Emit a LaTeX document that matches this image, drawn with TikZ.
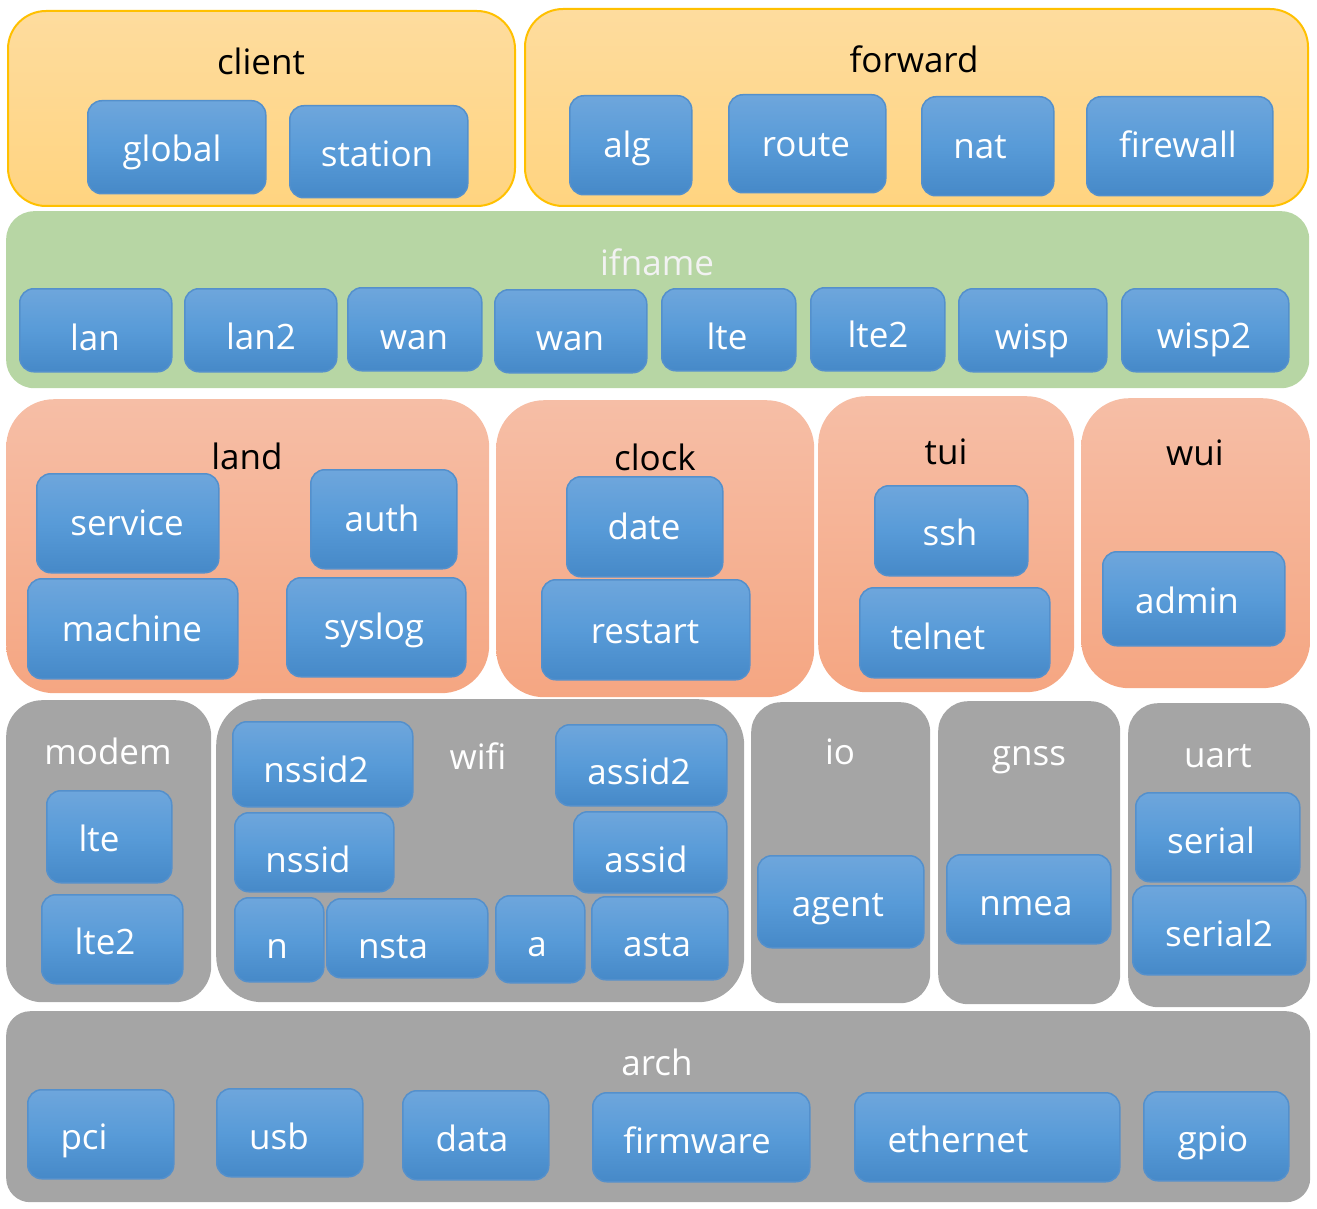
\documentclass[tikz,border=0pt]{standalone}
\usepackage{fontspec}
\setmainfont{Open Sans}
\definecolor{bluT}{RGB}{110,166,220}
\definecolor{bluM}{RGB}{88,155,216}
\definecolor{bluB}{RGB}{70,137,200}
\definecolor{bluL}{RGB}{84,144,204}
\definecolor{orT}{RGB}{254,220,158}
\definecolor{orB}{RGB}{255,212,128}
\definecolor{orL}{RGB}{255,192,0}
\definecolor{saT}{RGB}{246,190,166}
\definecolor{saB}{RGB}{245,166,130}
\definecolor{grn}{RGB}{183,214,164}
\definecolor{gry}{RGB}{165,165,165}
\tikzset{
  blue box/.style={rounded corners=14pt, draw=bluL, line width=1.5pt, top color=bluT, bottom color=bluB, middle color=bluM, inner sep=0pt},
  orange group/.style={rounded corners=38pt, draw=orL, line width=2pt, top color=orT, bottom color=orB, inner sep=0pt},
  green group/.style={rounded corners=28pt, fill=grn, inner sep=0pt},
  salmon group/.style={rounded corners=48pt, top color=saT, bottom color=saB, inner sep=0pt},
  gray group/.style={rounded corners=36pt, fill=gry, inner sep=0pt},
  lbl/.style={font=\fontsize{35}{40}\selectfont, text=white, inner sep=0pt, anchor=base},
  dark lbl/.style={lbl, text=black},
}
\newcommand\blk[6]{\node[#6, anchor=north west, minimum width={(#4-#2)*1pt}, minimum height={(#5-#3)*1pt}] (#1) at (#2,#3) {};}
\newcommand\txt[5]{\node[#5] (#1) at (#2,#3) {#4};}
\begin{document}
\begin{tikzpicture}[x=1pt,y=-1pt]
\useasboundingbox (0,0) rectangle (1317,1209);
% groups
\blk{client}{7}{10}{514}{205}{orange group}
\blk{forward}{524}{8}{1307}{205}{orange group}
\blk{ifname}{6}{211}{1309}{388}{green group}
\blk{land}{6}{399}{489}{693}{salmon group}
\blk{clock}{496}{400}{814}{697}{salmon group}
\blk{tui}{818}{396}{1074}{692}{salmon group}
\blk{wui}{1081}{398}{1310}{688}{salmon group}
\blk{modem}{6}{700}{211}{1002}{gray group}
\blk{wifi}{216}{699}{744}{1002}{gray group, rounded corners=46pt}
\blk{io}{751}{702}{930}{1003}{gray group, rounded corners=30pt}
\blk{gnss}{938}{701}{1120}{1004}{gray group, rounded corners=30pt}
\blk{uart}{1128}{703}{1310}{1007}{gray group, rounded corners=30pt}
\blk{arch}{6}{1011}{1310}{1202}{gray group, rounded corners=24pt}
% group titles
\txt{t-client}{261}{75}{client}{dark lbl}
\txt{t-forward}{914}{73}{forward}{dark lbl}
\txt{t-ifname}{657}{275}{ifname}{lbl, text=white!95!black}
\txt{t-land}{247}{469}{land}{dark lbl}
\txt{t-clock}{655}{470}{clock}{dark lbl}
\txt{t-tui}{946}{464}{tui}{dark lbl}
\txt{t-wui}{1195}{465}{wui}{dark lbl}
\txt{t-modem}{108}{764}{modem}{lbl}
\txt{t-wifi}{478}{769}{wifi}{lbl}
\txt{t-io}{840}{764}{io}{lbl}
\txt{t-gnss}{1029}{765}{gnss}{lbl}
\txt{t-uart}{1218}{767}{uart}{lbl}
\txt{t-arch}{657}{1075}{arch}{lbl}
% client
\blk{global}{87}{100}{265}{193}{blue box}
\txt{t-global}{172}{162}{global}{lbl}
\blk{station}{289}{105}{467}{197}{blue box}
\txt{t-station}{377}{167}{station}{lbl}
% forward
\blk{alg}{569}{95}{691}{194}{blue box}
\txt{t-alg}{627}{158}{alg}{lbl}
\blk{route}{728}{94}{885}{192}{blue box}
\txt{t-route}{806}{157}{route}{lbl}
\blk{nat}{921}{96}{1053}{195}{blue box}
\txt{t-nat}{980}{159}{nat}{lbl}
\blk{firewall}{1086}{96}{1272}{195}{blue box}
\txt{t-firewall}{1178}{158}{firewall}{lbl}
% ifname
\blk{lan}{19}{288}{171}{371}{blue box}
\txt{t-lan}{95}{350}{lan}{lbl}
\blk{lan2}{184}{288}{336}{371}{blue box}
\txt{t-lan2}{261}{349}{lan2}{lbl}
\blk{wan1}{347}{287}{481}{370}{blue box}
\txt{t-wan1}{414}{349}{wan}{lbl}
\blk{wan2}{494}{289}{646}{372}{blue box}
\txt{t-wan2}{570}{350}{wan}{lbl}
\blk{lte}{661}{288}{795}{370}{blue box}
\txt{t-lte}{727}{349}{lte}{lbl}
\blk{lte2}{810}{287}{944}{370}{blue box}
\txt{t-lte2}{878}{347}{lte2}{lbl}
\blk{wisp}{958}{288}{1106}{371}{blue box}
\txt{t-wisp}{1032}{349}{wisp}{lbl}
\blk{wisp2}{1121}{288}{1288}{371}{blue box}
\txt{t-wisp2}{1204}{348}{wisp2}{lbl}
% land
\blk{service}{36}{473}{218}{572}{blue box}
\txt{t-service}{127}{535}{service}{lbl}
\blk{auth}{310}{469}{456}{568}{blue box}
\txt{t-auth}{382}{531}{auth}{lbl}
\blk{machine}{27}{578}{237}{678}{blue box}
\txt{t-machine}{132}{641}{machine}{lbl}
\blk{syslog}{286}{577}{465}{676}{blue box}
\txt{t-syslog}{374}{639}{syslog}{lbl}
% clock
\blk{date}{566}{476}{722}{576}{blue box}
\txt{t-date}{644}{539}{date}{lbl}
\blk{restart}{541}{579}{749}{679}{blue box}
\txt{t-restart}{645}{643}{restart}{lbl}
% tui
\blk{ssh}{874}{485}{1027}{575}{blue box}
\txt{t-ssh}{950}{545}{ssh}{lbl}
\blk{telnet}{859}{587}{1049}{677}{blue box}
\txt{t-telnet}{938}{649}{telnet}{lbl}
% wui
\blk{admin}{1102}{551}{1284}{645}{blue box}
\txt{t-admin}{1187}{613}{admin}{lbl}
% modem
\blk{mlte}{46}{790}{171}{882}{blue box}
\txt{t-mlte}{99}{851}{lte}{lbl}
\blk{mlte2}{41}{894}{182}{983}{blue box}
\txt{t-mlte2}{105}{954}{lte2}{lbl}
% wifi
\blk{nssid2}{232}{721}{412}{806}{blue box}
\txt{t-nssid2}{316}{782}{nssid2}{lbl}
\blk{assid2}{555}{724}{726}{805}{blue box}
\txt{t-assid2}{639}{784}{assid2}{lbl}
\blk{nssid}{234}{812}{393}{891}{blue box}
\txt{t-nssid}{308}{872}{nssid}{lbl}
\blk{assid}{573}{811}{726}{892}{blue box}
\txt{t-assid}{646}{872}{assid}{lbl}
\blk{n}{234}{897}{323}{981}{blue box}
\txt{t-n}{277}{958}{n}{lbl}
\blk{nsta}{326}{898}{487}{977}{blue box}
\txt{t-nsta}{393}{958}{nsta}{lbl}
\blk{a}{495}{895}{584}{982}{blue box}
\txt{t-a}{537}{956}{a}{lbl}
\blk{asta}{591}{896}{727}{979}{blue box}
\txt{t-asta}{657}{956}{asta}{lbl}
% io, gnss, uart
\blk{agent}{757}{855}{923}{947}{blue box}
\txt{t-agent}{838}{916}{agent}{lbl}
\blk{nmea}{946}{854}{1110}{943}{blue box}
\txt{t-nmea}{1026}{915}{nmea}{lbl}
\blk{serial}{1135}{792}{1299}{881}{blue box}
\txt{t-serial}{1211}{853}{serial}{lbl}
\blk{serial2}{1132}{885}{1305}{974}{blue box}
\txt{t-serial2}{1219}{946}{serial2}{lbl}
% arch
\blk{pci}{27}{1089}{173}{1178}{blue box}
\txt{t-pci}{84}{1149}{pci}{lbl}
\blk{usb}{216}{1088}{362}{1176}{blue box}
\txt{t-usb}{279}{1149}{usb}{lbl}
\blk{data}{402}{1090}{548}{1179}{blue box}
\txt{t-data}{472}{1151}{data}{lbl}
\blk{firmware}{592}{1092}{809}{1181}{blue box}
\txt{t-firmware}{697}{1153}{firmware}{lbl}
\blk{ethernet}{854}{1092}{1119}{1181}{blue box}
\txt{t-ethernet}{958}{1152}{ethernet}{lbl}
\blk{gpio}{1143}{1091}{1288}{1180}{blue box}
\txt{t-gpio}{1213}{1151}{gpio}{lbl}
\end{tikzpicture}
\end{document}
